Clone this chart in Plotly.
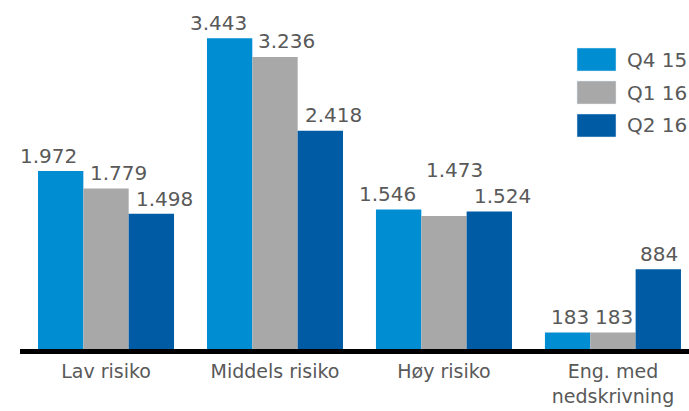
import plotly.graph_objects as go

# Categories and series
categories = ["Lav risiko", "Middels risiko", "Høy risiko", "Eng. med<br>nedskrivning"]
series_names = ["Q4 15", "Q1 16", "Q2 16"]
q4_15 = [1972, 3443, 1546, 183]
q1_16 = [1779, 3236, 1473, 183]
q2_16 = [1498, 2418, 1524, 884]
series_values = [q4_15, q1_16, q2_16]

colors = ["#008DD2", "#A8A8A8", "#005BA5"]
text_color = "#595959"
font_family = "DejaVu Sans"

# Label nudges (pixels) so the value labels sit as in the layout
label_dx = [[-12, -11, -11, 2], [12, 12, 11, 1], [13, 13, 13, 1]]
label_dy = [[15, 15, 15, 15], [15, 16, 46, 15], [15, 16, 15, 15]]

bargap = 0.195
n_series = len(series_values)
bar_w = (1 - bargap) / n_series

def fmt(v):
    return f"{v:,}".replace(",", ".")

x_pos = list(range(len(categories)))

fig = go.Figure()
for name, vals, col in zip(series_names, series_values, colors):
    fig.add_trace(go.Bar(
        x=x_pos, y=vals, name=name,
        marker=dict(color=col, line=dict(width=0)),
        showlegend=False,
    ))

annotations = []
for i, vals in enumerate(series_values):
    for k, v in enumerate(vals):
        annotations.append(dict(
            x=k + (i - (n_series - 1) / 2) * bar_w, y=v,
            xref="x", yref="y",
            text=fmt(v), showarrow=False,
            xanchor="center", yanchor="middle",
            xshift=label_dx[i][k], yshift=label_dy[i][k],
            font=dict(family=font_family, size=20, color=text_color),
        ))

# Legend: large swatches with labels at the upper right
shapes = []
leg_top = 48
for i, (name, col) in enumerate(zip(series_names, colors)):
    y0 = leg_top + i * 33
    y1 = y0 + 23
    shapes.append(dict(
        type="rect", xref="paper", yref="paper",
        x0=(577 - 20) / 669, x1=(616 - 20) / 669,
        y0=(349 - y1) / 349, y1=(349 - y0) / 349,
        fillcolor=col, line=dict(color="#DDEEF8", width=0.5),
    ))
    annotations.append(dict(
        x=(625 - 20) / 669, y=(349 - (y0 + y1) / 2) / 349,
        xref="paper", yref="paper", text=name, showarrow=False,
        xanchor="left", yanchor="middle",
        font=dict(family=font_family, size=20, color=text_color),
    ))

fig.update_layout(
    width=689, height=411,
    margin=dict(l=20, r=0, t=0, b=62),
    paper_bgcolor="white", plot_bgcolor="white",
    barmode="group", bargap=bargap, bargroupgap=0,
    annotations=annotations, shapes=shapes,
    font=dict(family=font_family, size=20, color=text_color),
)
fig.update_xaxes(
    range=[-0.509, 3.45],
    tickvals=x_pos, ticktext=categories,
    showline=True, linecolor="black", linewidth=5,
    ticks="", showgrid=False, zeroline=False,
    ticklabelstandoff=1, automargin=False,
    tickfont=dict(family=font_family, size=19, color=text_color),
)
fig.update_yaxes(
    range=[0, 3867], visible=False, showgrid=False, zeroline=False,
    automargin=False,
)

fig.write_html("out.html")
